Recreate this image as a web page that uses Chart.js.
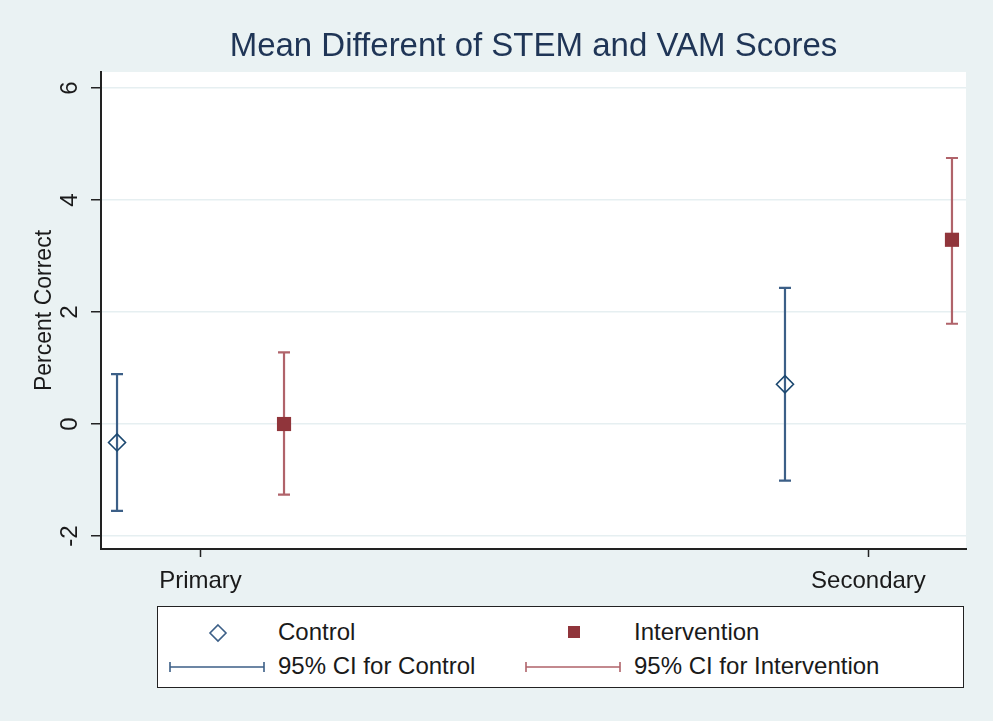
<!DOCTYPE html>
<html>
<head>
<meta charset="utf-8">
<title>Mean Different of STEM and VAM Scores</title>
<script src="https://cdn.jsdelivr.net/npm/chart.js@4"></script>
<style>
   body { margin: 0; background: #EAF2F3; font-family: "Liberation Sans", Arial, sans-serif; }
   #wrap { position: relative; width: 993px; height: 721px; }
   #legend {
      position: absolute; left: 157px; top: 606px; width: 805px; height: 80px;
      background: #fff; border: 1.5px solid #222;
   }
   #legend .item { position: absolute; font-size: 24px; color: #1a1a1a; line-height: 28px; white-space: nowrap; }
   #legend svg { position: absolute; }
</style>
</head>
<body>
<div id="wrap">
   <canvas id="ci-chart" width="993" height="721"></canvas>

   <!-- legend box under the chart -->
   <div id="legend">
      <svg style="left:49px;top:15px" width="22" height="22">
         <path d="M11 3 L19 11 L11 19 L3 11 Z" fill="none" stroke="#3C5F87" stroke-width="1.6"/>
      </svg>
      <div class="item" style="left:120px;top:11px">Control</div>

      <svg style="left:409px;top:18px" width="14" height="14">
         <rect x="1" y="1" width="12" height="12" fill="#90353B"/>
      </svg>
      <div class="item" style="left:476px;top:11px">Intervention</div>

      <svg style="left:11px;top:53px" width="96" height="14">
         <path d="M1 2 V12 M1 7 H95 M95 2 V12" fill="none" stroke="#3C5F87" stroke-width="1.6"/>
      </svg>
      <div class="item" style="left:120px;top:45px">95% CI for Control</div>

      <svg style="left:367px;top:53px" width="96" height="14">
         <path d="M1 2 V12 M1 7 H95 M95 2 V12" fill="none" stroke="#B0636A" stroke-width="1.6"/>
      </svg>
      <div class="item" style="left:476px;top:45px">95% CI for Intervention</div>
   </div>
</div>

<script>
/*=======================================
 Data
========================================*/
var groups = ['Primary', 'Secondary'];
var groupPos = [1, 2];
var yTicks = [-2, 0, 2, 4, 6];

var controlMean = [-0.33, 0.71];
var controlLow = [-1.55, -1.01];
var controlHigh = [0.89, 2.43];

var interMean = [0.0, 3.29];
var interLow = [-1.26, 1.79];
var interHigh = [1.28, 4.75];

// control sits a bit left of the group tick, intervention a bit right
var dodge = 0.125;

function points(means, shift) {
   return means.map((m, i) => ({ x: groupPos[i] + shift, y: m }));
}

var ciSets = [
   { low: controlLow, high: controlHigh, shift: -dodge, color: '#3C5F87' },
   { low: interLow, high: interHigh, shift: dodge, color: '#B0636A' }
];

/*=======================================
 Plugins
========================================*/

// white plot region on the bluish-gray page
const plotBackground = {
   id: 'plotBackground',
   beforeDraw(chart) {
      const a = chart.chartArea;
      const ctx = chart.ctx;
      ctx.save();
      ctx.fillStyle = '#ffffff';
      ctx.fillRect(a.left, a.top, a.right - a.left, a.bottom - a.top);
      ctx.restore();
   }
};

// capped spikes for the 95% intervals, drawn under the markers
const errorBars = {
   id: 'errorBars',
   beforeDatasetsDraw(chart) {
      const ctx = chart.ctx;
      const xs = chart.scales.x;
      const ys = chart.scales.y;
      ctx.save();
      ctx.lineWidth = 2.2;
      ciSets.forEach(set => {
         ctx.strokeStyle = set.color;
         groupPos.forEach((g, i) => {
            const px = xs.getPixelForValue(g + set.shift);
            const top = ys.getPixelForValue(set.high[i]);
            const bot = ys.getPixelForValue(set.low[i]);
            ctx.beginPath();
            ctx.moveTo(px, top);
            ctx.lineTo(px, bot);
            ctx.moveTo(px - 6, top);
            ctx.lineTo(px + 6, top);
            ctx.moveTo(px - 6, bot);
            ctx.lineTo(px + 6, bot);
            ctx.stroke();
         });
      });
      ctx.restore();
   }
};

/*=======================================
 Chart
========================================*/
var ctx = document.getElementById('ci-chart');

var ciChart = new Chart(ctx, {
   type: 'scatter',
   data: {
      datasets: [
         {
            label: 'Control',
            data: points(controlMean, -dodge),
            pointStyle: 'rectRot',
            pointRadius: 8.5,
            pointBorderWidth: 1.6,
            borderColor: '#1A476F',
            backgroundColor: 'rgba(0,0,0,0)'
         },
         {
            label: 'Intervention',
            data: points(interMean, dodge),
            pointStyle: 'rect',
            pointRadius: 10,
            pointBorderWidth: 0,
            borderColor: '#90353B',
            backgroundColor: '#90353B'
         }
      ]
   },
   options: {
      responsive: false,
      animation: { duration: 0 },
      layout: { padding: { top: 27, right: 27, bottom: 120, left: 0 } },
      plugins: {
         legend: { display: false },
         tooltip: { enabled: false },
         title: {
            display: true,
            text: 'Mean Different of STEM and VAM Scores',
            fullSize: false,
            color: '#1F3556',
            font: { family: '"Liberation Sans", Arial, sans-serif', size: 33, weight: 'normal' },
            padding: { top: 0, bottom: 5.4 }
         }
      },
      scales: {
         x: {
            type: 'linear',
            min: 0.851,
            max: 2.146,
            afterBuildTicks: s => { s.ticks = groupPos.map(v => ({ value: v })); },
            afterFit: s => { s.height = 52; },
            ticks: {
               callback: v => groups[groupPos.indexOf(v)],
               color: '#1a1a1a',
               padding: 10,
               font: { family: '"Liberation Sans", Arial, sans-serif', size: 24 }
            },
            grid: { drawOnChartArea: false, tickLength: 8, tickColor: '#222', tickWidth: 1.5 },
            border: { color: '#222', width: 2 }
         },
         y: {
            min: -2.232,
            max: 6.286,
            afterBuildTicks: s => { s.ticks = yTicks.map(v => ({ value: v })); },
            afterFit: s => { s.width = 101; },
            ticks: {
               minRotation: 90,
               maxRotation: 90,
               crossAlign: 'center',
               padding: 10,
               color: '#1a1a1a',
               font: { family: '"Liberation Sans", Arial, sans-serif', size: 24 }
            },
            grid: { color: '#E6EFF1', lineWidth: 1.5, tickLength: 10, tickColor: '#222', tickWidth: 1.5 },
            border: { color: '#222', width: 2 },
            title: {
               display: true,
               text: 'Percent Correct',
               color: '#1a1a1a',
               padding: { top: 31, bottom: 0 },
               font: { family: '"Liberation Sans", Arial, sans-serif', size: 23 }
            }
         }
      }
   },
   plugins: [plotBackground, errorBars]
});
</script>
</body>
</html>
